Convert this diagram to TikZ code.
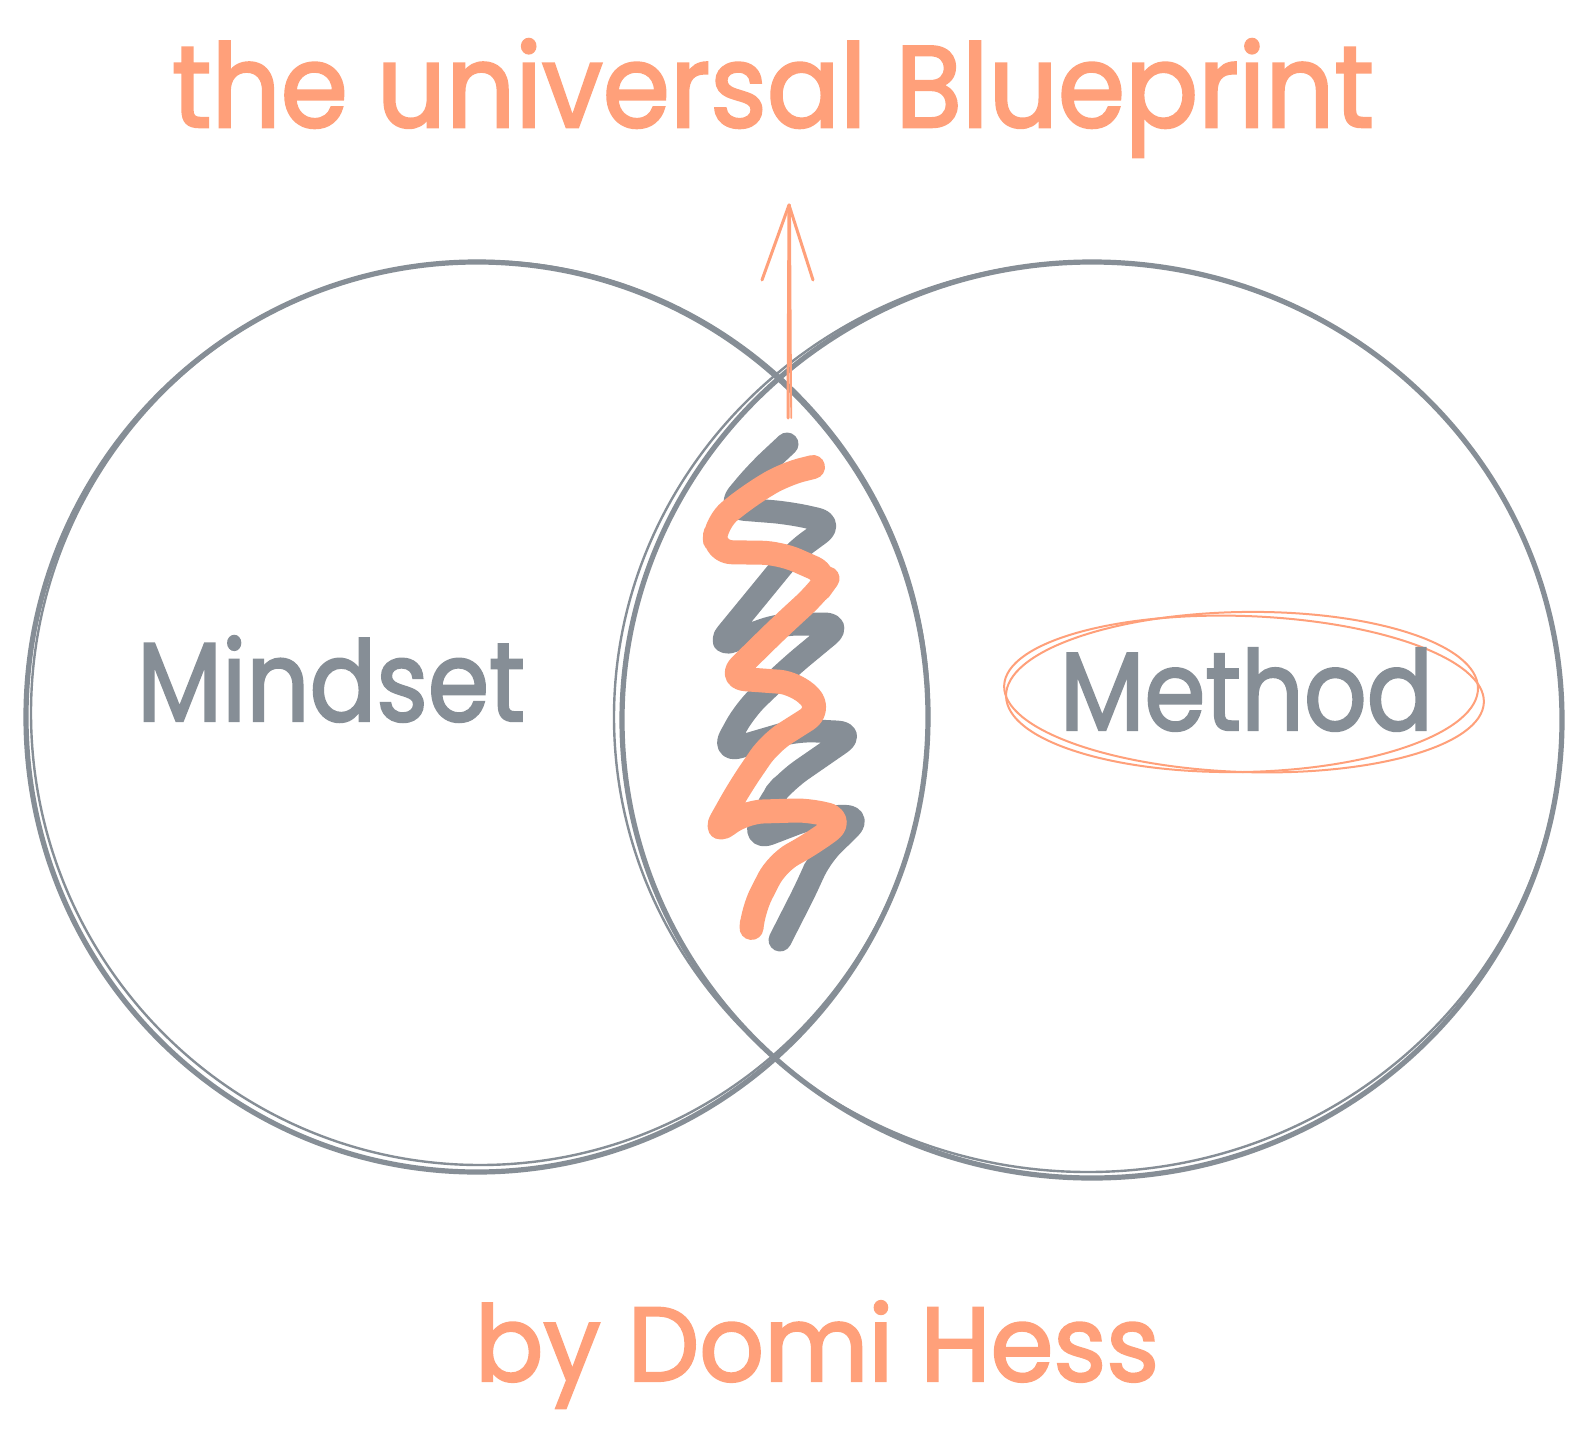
\documentclass[tikz,border=0pt]{standalone}
\usepackage{graphicx}
\usepackage{fontspec}
\setmainfont{Poppins}
\newfontfamily\sketchfont{Poppins}[FakeBold=2.2]
\definecolor{sketchgray}{RGB}{134,142,150}
\definecolor{salmon}{RGB}{255,160,122}
\tikzset{
  venn/.style={draw=sketchgray, line width=2.6pt},
  vennthin/.style={draw=sketchgray, line width=1.2pt},
  scribgray/.style={draw=sketchgray, line width=11.5pt, line cap=round, line join=round, rounded corners=9pt},
  scribsalmon/.style={draw=salmon, line width=12pt, line cap=round, line join=round, rounded corners=9pt},
  ring/.style={draw=salmon, line width=1pt},
  arrowline/.style={draw=salmon, line width=1.5pt, line cap=round},
  label/.style={inner sep=0pt, outer sep=0pt, anchor=base west, font=\sketchfont},
}
\begin{document}
\begin{tikzpicture}[x=0.5pt,y=-0.5pt]
\useasboundingbox[fill=white] (0,0) rectangle (1590,1451);

% Venn circles
\draw[venn] (477,717) ellipse [x radius=451, y radius=455];
\draw[vennthin] (480,713) ellipse [x radius=449, y radius=452];
\draw[venn] (1092,720) ellipse [x radius=470, y radius=458];
\draw[vennthin] (1088,717) ellipse [x radius=474, y radius=455];

% gray scribble
\draw[scribgray] (787,444) -- (757,472) -- (727,508) -- (790,513) -- (834,523)
  -- (793,553) -- (757,597) -- (716,647) -- (780,624) -- (842,624)
  -- (790,667) -- (745,710) -- (722,752) -- (797,730) -- (855,733)
  -- (787,780) -- (770,800) -- (753,840) -- (813,817) -- (862,816)
  -- (820,857) -- (808,885) -- (780,940);

% salmon scribble
\draw[scribsalmon] (813,467) -- (785,474) -- (750,495) -- (716,522) -- (714,552)
  -- (780,553) -- (830,575) -- (817,593) -- (780,627) -- (728,678)
  -- (797,683) -- (822,710) -- (770,743) -- (740,787) -- (713,835)
  -- (745,812) -- (813,810) -- (844,820) -- (813,843) -- (777,863)
  -- (753,910) -- (752,922);

% arrow
\coordinate (abase) at (788,418);
\coordinate (atip) at (789,205);
\coordinate (wl) at (762,280);
\coordinate (wr) at (813,280);
\draw[arrowline] (abase) -- (atip);
\draw[arrowline, line width=0.9pt] ([xshift=1.6pt]abase) -- ([xshift=0.5pt]atip);
\draw[arrowline] (atip) -- (wl);
\draw[arrowline] (atip) -- (wr);

% Method ring
\draw[ring] (1244,694) ellipse [x radius=240, y radius=78, rotate=-2];
\draw[ring] (1242,692) ellipse [x radius=236, y radius=80, rotate=1];

% texts
\node[label, text=salmon] (title) at (172,127) {\resizebox{601pt}{44pt}{the universal Blueprint}};
\node[label, text=sketchgray] (mindset) at (137,721) {\resizebox{194pt}{42.5pt}{Mindset}};
\node[label, text=sketchgray] (method) at (1060,730) {\resizebox{186.5pt}{41pt}{Method}};
\node[label, text=salmon] (byline) at (475,1381) {\resizebox{342pt}{40pt}{by Domi Hess}};
\end{tikzpicture}
\end{document}
